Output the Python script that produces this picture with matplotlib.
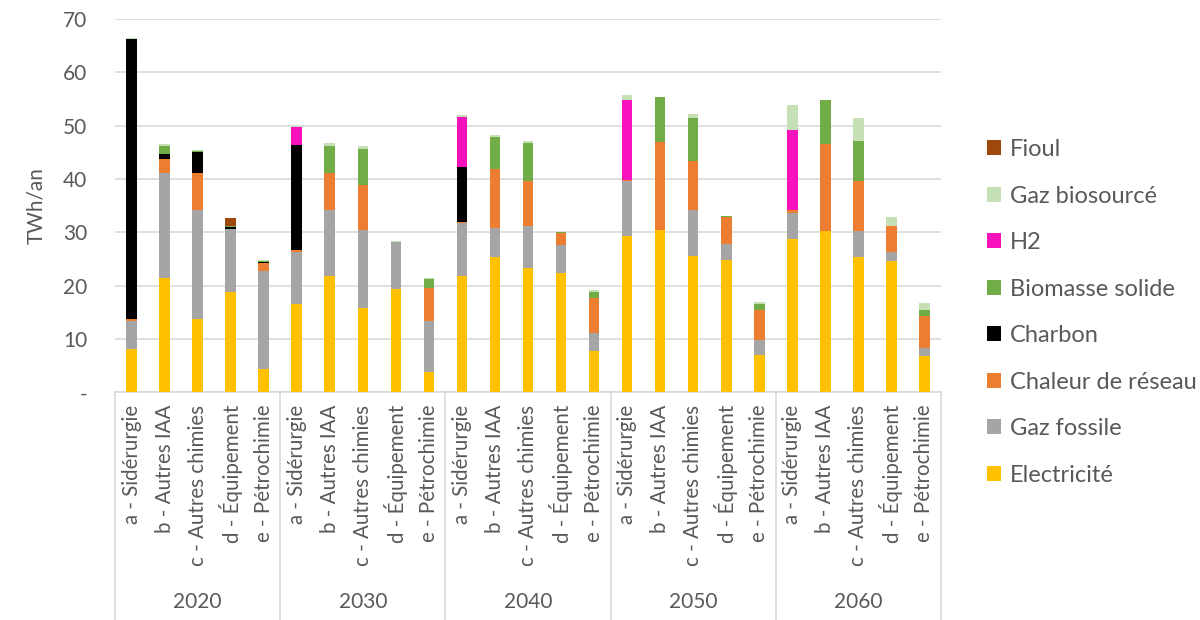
import matplotlib
matplotlib.use("Agg")
import matplotlib.pyplot as plt
import numpy as np
from matplotlib.transforms import blended_transform_factory
from matplotlib.patches import Patch

years = ["2020", "2030", "2040", "2050", "2060"]
sectors = ["a - Sidérurgie", "b - Autres IAA", "c - Autres chimies",
           "d - Équipement", "e - Pétrochimie"]

# TWh/an, one value per (year, sector), years in order, sectors a..e
electricite = [8.1, 21.5, 13.7, 18.9, 4.3,
               16.6, 21.9, 15.9, 19.3, 3.9,
               21.9, 25.4, 23.4, 22.3, 7.7,
               29.4, 30.5, 25.6, 24.9, 7.0,
               28.7, 30.3, 25.4, 24.7, 6.8]
gaz_fossile = [5.3, 19.6, 20.5, 11.8, 18.5,
               9.8, 12.3, 14.5, 8.8, 9.4,
               9.8, 5.5, 7.8, 5.3, 3.5,
               10.2, 0.0, 8.6, 3.0, 2.9,
               5.0, 0.0, 4.8, 1.6, 1.6]
chaleur_reseau = [0.4, 2.6, 6.9, 0.0, 1.4,
                  0.2, 6.9, 8.4, 0.0, 6.3,
                  0.2, 10.9, 8.4, 2.2, 6.5,
                  0.2, 16.5, 9.2, 4.9, 5.5,
                  0.4, 16.2, 9.4, 4.9, 5.9]
charbon = [52.4, 0.9, 4.0, 0.3, 0.2,
           19.8, 0.0, 0.0, 0.0, 0.0,
           10.4, 0.0, 0.0, 0.0, 0.0,
           0.0, 0.0, 0.0, 0.0, 0.0,
           0.0, 0.0, 0.0, 0.0, 0.0]
biomasse_solide = [0.1, 1.6, 0.1, 0.1, 0.3,
                   0.0, 5.1, 6.8, 0.1, 1.6,
                   0.0, 6.1, 7.1, 0.2, 1.2,
                   0.0, 8.3, 8.0, 0.2, 1.2,
                   0.0, 8.3, 7.6, 0.0, 1.1]
h2 = [0.0, 0.0, 0.0, 0.0, 0.0,
      3.3, 0.0, 0.0, 0.0, 0.0,
      9.3, 0.0, 0.0, 0.0, 0.0,
      15.0, 0.0, 0.0, 0.0, 0.0,
      15.0, 0.0, 0.0, 0.0, 0.0]
gaz_biosource = [0.1, 0.4, 0.2, 0.0, 0.2,
                 0.3, 0.5, 0.6, 0.2, 0.2,
                 0.4, 0.4, 0.4, 0.0, 0.2,
                 0.9, 0.0, 0.7, 0.0, 0.4,
                 4.8, 0.0, 4.2, 1.6, 1.4]
fioul = [0.0, 0.0, 0.0, 1.6, 0.0,
         0.0, 0.0, 0.0, 0.0, 0.0,
         0.0, 0.0, 0.0, 0.0, 0.0,
         0.0, 0.0, 0.0, 0.0, 0.0,
         0.0, 0.0, 0.0, 0.0, 0.0]

series = [
    ("Electricité", electricite, "#FFC000"),
    ("Gaz fossile", gaz_fossile, "#A5A5A5"),
    ("Chaleur de réseau", chaleur_reseau, "#ED7D31"),
    ("Charbon", charbon, "#000000"),
    ("Biomasse solide", biomasse_solide, "#70AD47"),
    ("H2", h2, "#F712BE"),
    ("Gaz biosourcé", gaz_biosource, "#C5E0B4"),
    ("Fioul", fioul, "#9E480E"),
]

plt.rcParams["font.family"] = ["Lato", "DejaVu Sans"]
text_color = "#595959"
grid_color = "#D9D9D9"

fig = plt.figure(figsize=(12, 6.2), dpi=100)
ax = fig.add_axes([115 / 1200, 1 - 392.3 / 620, 826 / 1200, 373.3 / 620])

n = len(years) * len(sectors)
x = np.arange(n)
bottom = np.zeros(n)
for label, values, color in series:
    vals = np.array(values)
    ax.bar(x, vals, width=0.32, bottom=bottom, color=color, label=label,
           linewidth=0, zorder=3)
    bottom += vals

ax.set_xlim(-0.5, n - 0.5)
ax.set_ylim(0, 70)
ax.set_yticks(np.arange(0, 71, 10))
ax.set_yticklabels(["-"] + [str(v) for v in range(10, 71, 10)])
ax.yaxis.grid(True, color=grid_color, linewidth=1.2, zorder=0)
ax.tick_params(axis="y", length=0, pad=20, labelsize=15, labelcolor=text_color)

ax.set_xticks(x)
ax.set_xticklabels(sectors * len(years), rotation=90, va="top", ha="center")
ax.tick_params(axis="x", length=0, pad=9, labelsize=14.8, labelcolor=text_color)

for side in ["top", "right", "left"]:
    ax.spines[side].set_visible(False)
ax.spines["bottom"].set_color(grid_color)
ax.spines["bottom"].set_linewidth(1.2)

ax.set_ylabel("TWh/an", fontsize=15, color=text_color, labelpad=12)

# group separators and year labels below the axis
trans = blended_transform_factory(ax.transData, ax.transAxes)
for g in range(len(years) + 1):
    xs = g * len(sectors) - 0.5
    ax.plot([xs, xs], [0, -0.62], transform=trans, color=grid_color,
            linewidth=1.2, clip_on=False, zorder=1)
for g, year in enumerate(years):
    xc = g * len(sectors) + (len(sectors) - 1) / 2
    ax.text(xc, -0.563, year, transform=trans, ha="center", va="center",
            fontsize=15, color=text_color)

handles = [Patch(facecolor=c, edgecolor="none", label=l) for l, _, c in series][::-1]
fig.legend(handles=handles, loc="upper left", bbox_to_anchor=(966 / 1200, 1 - 118 / 620),
           frameon=False, fontsize=17, labelcolor=text_color, handlelength=0.6,
           handleheight=0.6, handletextpad=0.35, labelspacing=1.08)

fig.savefig("out.png", dpi=100, facecolor="white")
